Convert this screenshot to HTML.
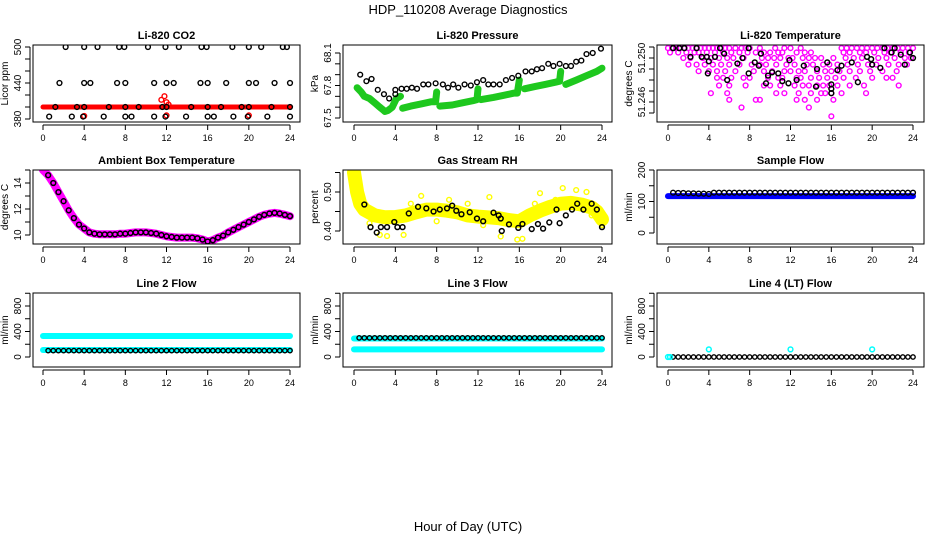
<!DOCTYPE html>
<html><head><meta charset="utf-8"><style>
html,body{margin:0;padding:0;background:#fff;}
svg{display:block;font-family:"Liberation Sans",sans-serif;}
</style></head><body>
<svg id="chart" width="936" height="540" viewBox="0 0 936 540" xmlns="http://www.w3.org/2000/svg">
<text x="468" y="14" text-anchor="middle" font-size="13">HDP_110208  Average Diagnostics</text>
<text x="468" y="531" text-anchor="middle" font-size="13">Hour of Day (UTC)</text>
</svg>
<script>
// ---------- data ----------
const xTicks=[0,4,8,12,16,20,24];
const co2BlackH500=[2.2,4,5.3,7.4,7.9,10.2,11.9,13.2,15.4,15.9,18.4,20,21.2,23.3,23.7];
const co2BlackH440=[1.6,4,4.6,7.2,8,10.8,12,12.7,15.3,16,17.8,20,20.7,22.5,24];
const co2BlackH400=[1.2,3.3,4,6.4,8,9.3,11.6,12,14.4,16,17.3,19.3,20,22.2,24];
const co2BlackH384=[0.6,2.8,3.9,5.9,8,8.6,10.8,11.9,13.9,16,16.6,18.5,19.9,21.8,24];
const co2RedBandH=[0,24];
const co2RedBandV=[400,400];
const co2RedPtH=[4,11.5,11.8,12,12.2,12,20];
const co2RedPtV=[385,412,418,408,404,386,386];

const presBlackH=[0.6,1.2,1.7,2.3,2.9,3.4,4,4,4.6,5.1,5.6,6.1,6.7,7.2,7.9,8.6,9.1,9.6,10.1,10.7,11.3,11.9,12.5,13,13.5,14.1,14.7,15.3,15.9,16.6,17.2,17.7,18.2,18.8,19.3,19.9,20.5,21,21.5,22,22.5,23.1,23.9];
const presBlackV=[67.9,67.84,67.86,67.76,67.72,67.68,67.76,67.72,67.77,67.77,67.78,67.77,67.81,67.81,67.82,67.81,67.78,67.81,67.78,67.81,67.8,67.83,67.85,67.81,67.81,67.81,67.85,67.87,67.89,67.93,67.93,67.95,67.96,68.0,67.98,68.0,67.98,67.98,68.02,68.03,68.09,68.1,68.14];
const presGreenSegH=[[0.3,0.7,1,1.5,2,2.5,3,3.3,3.7,4.1,4.5],[4.7,5.5,6.5,7.5,7.9,8.0],[8.3,9.5,10.5,11.5,11.9,12.0],[12.3,13.5,14.5,15.5,15.8,16.0],[16.5,17.5,18.5,19.5,19.9,20.0],[20.5,21.5,22.5,23.5,24]];
const presGreenSegV=[[67.78,67.74,67.7,67.68,67.64,67.6,67.56,67.57,67.6,67.68,67.7],[67.59,67.61,67.63,67.65,67.65,67.74],[67.61,67.62,67.64,67.66,67.67,67.77],[67.67,67.69,67.71,67.73,67.73,67.85],[67.77,67.79,67.81,67.83,67.84,67.93],[67.81,67.85,67.89,67.93,67.96]];

const tempMagLevels=[51.2509,51.2505,51.2500,51.2494,51.2488,51.2482,51.2475,51.2468,51.2462,51.2455,51.2447];
const tempMagHours=[
[0,0.4,0.8,1.2,1.6,2,2.4,2.8,3.2,3.6,4,4.4,4.8,5.2,5.6,6,6.6,7.2,7.6,8,9,10.5,11.4,12,13,17,17.5,18,18.5,19,19.5,20,20.5,21,21.5,22,22.5,23,23.5,24],
[0.2,1,1.8,2.6,3,3.8,4.6,5.4,6.2,7,7.8,8.6,9.4,10,10.8,11.2,12.6,13.4,14,17.2,17.8,18.8,19.4,20.2,21.2,21.8,22.8,23.6],
[1.5,2.2,3.4,4.2,5,5.8,6.4,7.4,9.2,9.8,10.4,11,11.8,12.2,13.2,13.8,14.4,15,16.2,17.4,18.2,19,20.6,21.4,22.2,23.2,23.8],
[2,2.8,3.6,4.4,5.2,6,7,8.2,9,9.6,10.6,11.6,12.4,13.6,14.2,15.2,15.8,16.6,17.6,18.6,19.6,20.4,21.6,22.6,23.4],
[3,4,4.8,5.6,6.6,8.4,9.4,10.2,11.4,12,12.8,13.4,14.6,15.4,16,16.8,17.8,18.8,19.8,21,22.4],
[4.8,5.4,6.2,7.4,8,9.8,10.8,11.2,12.6,13,14,14.8,15.6,16.4,17.2,18.4,20,21.4,22],
[5,6,7.6,9.4,10,11,12.4,13.2,13.8,14.6,15.2,15.8,16.6,17.8,19.2,22.6],
[4.2,5.8,10.6,11.4,12.8,14,15,15.4,16,17,19.4],
[6,8.6,9,12.6,13.4,14.6,16.2],
[7.2,13.8],
[16]];
const tempBlackH=[0.5,1.1,1.6,2.8,5.1,7.9,2.2,3.3,3.8,4.6,5.5,6.8,7.3,4,8.5,9.1,8.9,3.9,5.8,7.9,9.8,10.2,9.6,11.8,10.8,11.9,11.2,13.3,14.6,15.6,16,16,16,17,18,18.6,19.5,19.9,20,20.8,21.2,21.9,22.2,22.8,23.2,23.7,24,12.6,14.5,16.6];
const tempBlackV=[51.2509,51.2509,51.2509,51.2509,51.2509,51.2509,51.2501,51.2501,51.2501,51.2501,51.2504,51.2495,51.25,51.2497,51.2496,51.2504,51.2493,51.2486,51.248,51.2486,51.2484,51.2487,51.2477,51.2477,51.2486,51.2498,51.2479,51.2493,51.249,51.2496,51.2476,51.2472,51.2468,51.2493,51.2496,51.2478,51.2501,51.2499,51.2494,51.2491,51.2509,51.2505,51.2509,51.2503,51.2494,51.2505,51.25,51.248,51.2474,51.2489];

const ambH=[0,0.5,1,1.5,2,2.5,3,3.5,4,4.5,5,5.5,6,6.5,7,7.5,8,8.5,9,9.5,10,10.5,11,11.5,12,12.5,13,13.5,14,14.5,15,15.5,16,16.5,17,17.5,18,18.5,19,19.5,20,20.5,21,21.5,22,22.5,23,23.5,24];
const ambV=[15,14.6,14.0,13.3,12.6,11.9,11.3,10.8,10.5,10.2,10.1,10.05,10.05,10.05,10.05,10.1,10.1,10.15,10.2,10.2,10.2,10.15,10.1,10.0,9.9,9.85,9.8,9.8,9.8,9.8,9.75,9.65,9.5,9.6,9.8,9.95,10.2,10.4,10.6,10.8,11.0,11.2,11.4,11.55,11.65,11.7,11.65,11.55,11.45];

const rhYelH=[0,0.3,0.6,1,2,3,4,5,6,7,8,9,10,11,12,13,14,15,16,17,18,19,20,21,22,23,23.5,24];
const rhYelV=[0.55,0.5,0.47,0.455,0.44,0.435,0.436,0.44,0.448,0.455,0.455,0.452,0.448,0.44,0.437,0.435,0.433,0.428,0.425,0.44,0.452,0.462,0.47,0.472,0.468,0.46,0.45,0.43];
const rhYelOutH=[0.1,0.2,0.3,2.5,4.8,6.5,9.2,14.2,15.8,16.3,18,20.2,21.5,22.5,24,3.2,13.1,1.5,5.5,8,11,12.5,17.5,19.5,23];
const rhYelOutV=[0.562,0.54,0.52,0.39,0.39,0.49,0.48,0.386,0.378,0.38,0.497,0.51,0.505,0.5,0.415,0.387,0.487,0.42,0.47,0.425,0.47,0.415,0.47,0.48,0.44];
const rhBlackH=[1,1.6,2.2,2.6,3.2,3.9,4.2,4.7,5.3,6.2,7,7.7,8.3,9,9.5,9.9,10.4,11.2,11.9,12.5,13.5,14,14.2,14.3,15,15.9,16.3,17.2,17.8,18.3,18.9,19.6,19.9,20.5,21.1,21.6,22.2,23,23.5,24];
const rhBlackV=[0.468,0.41,0.396,0.41,0.41,0.423,0.41,0.41,0.445,0.462,0.458,0.45,0.455,0.458,0.465,0.452,0.443,0.448,0.432,0.425,0.447,0.44,0.432,0.4,0.417,0.408,0.418,0.405,0.418,0.406,0.422,0.455,0.42,0.44,0.455,0.47,0.455,0.47,0.455,0.41];

const sampBandH=[0,24];
const sampBandV=[117,117];
const halfHours=[0.5,1,1.5,2,2.5,3,3.5,4,4.5,5,5.5,6,6.5,7,7.5,8,8.5,9,9.5,10,10.5,11,11.5,12,12.5,13,13.5,14,14.5,15,15.5,16,16.5,17,17.5,18,18.5,19,19.5,20,20.5,21,21.5,22,22.5,23,23.5,24];
const sampBlackV=[128,127,127,126,126,125,125,124,128,128,128,128,128,128,128,128,128,128,128,128,128,128,128,128,128,128,128,128,128,128,128,128,128,128,128,128,128,128,128,128,128,128,128,128,128,128,128,128];

const l2CyanHighV=[330,330];
const l2CyanLowV=[110,110];
const l2BlackV=100;
const l3CyanHighV=[290,290];
const l3CyanLowV=[120,120];
const l3BlackV=300;
const l4BlackV=0;
const l4CyanPtH=[0,0.2,4,12,20];
const l4CyanPtV=[0,0,120,120,120];

// ---------- drawing ----------
const NS="http://www.w3.org/2000/svg";
const svg=document.getElementById('chart');
function el(tag,attrs,parent){const e=document.createElementNS(NS,tag);for(const k in attrs)e.setAttribute(k,attrs[k]);(parent||svg).appendChild(e);return e;}
const cols=[{l:33,r:300,x0:43,x24:290},{l:343,r:612,x0:354,x24:602},{l:657,r:924,x0:668,x24:913}];
const rows=[{t:45,b:122},{t:170,b:244},{t:293,b:367}];

function panel(name,title,ci,ri,v0,p0,v1,p1,ticks,labels,ylab){
  const c=cols[ci],r=rows[ri];
  const g=el('g',{});
  
  
  const sx=h=>c.x0+(h/24)*(c.x24-c.x0);
  const sy=v=>p0+(v-v0)*(p1-p0)/(v1-v0);
  const t=el('text',{x:(c.l+c.r)/2,y:r.t-6,'text-anchor':'middle','font-size':11,'font-weight':'bold'},g);
  t.textContent=title;
  
  
  const clip=el('clipPath',{id:'cl'+name},g);
  el('rect',{x:c.l,y:r.t,width:c.r-c.l,height:r.b-r.t},clip);
  const plot=el('g',{'clip-path':'url(#cl'+name+')'},g);
  
  
  const box=el('rect',{x:c.l,y:r.t,width:c.r-c.l,height:r.b-r.t,fill:'none',stroke:'#000','stroke-width':1},g);
  
  
  const xa=el('g',{},g);
  
  
  el('line',{x1:sx(0),x2:sx(24),y1:r.b+3,y2:r.b+3,stroke:'#000'},xa);
  xTicks.forEach(h=>{el('line',{x1:sx(h),x2:sx(h),y1:r.b+3,y2:r.b+8,stroke:'#000'},xa);
    const tl=el('text',{x:sx(h),y:r.b+19,'text-anchor':'middle','font-size':9},xa);tl.textContent=h;});
  const ya=el('g',{},g);
  
  
  el('line',{x1:c.l-3,x2:c.l-3,y1:sy(ticks[0]),y2:sy(ticks[ticks.length-1]),stroke:'#000'},ya);
  ticks.forEach(v=>el('line',{x1:c.l-8,x2:c.l-3,y1:sy(v),y2:sy(v),stroke:'#000'},ya));
  labels.forEach(v=>{const x=c.l-12,y=sy(v);const tl=el('text',{x:x,y:y,'text-anchor':'middle','font-size':10,transform:`rotate(-90 ${x} ${y})`},ya);tl.textContent=v;});
  const yx=c.l-25,yy=(r.t+r.b)/2;
  const yl=el('text',{x:yx,y:yy,'text-anchor':'middle','font-size':10,transform:`rotate(-90 ${yx} ${yy})`},g);
  yl.textContent=ylab;
  
  
  return {plot,sx,sy};
}
function pts(P,H,V,color,r,sw,nm){const g=el('g',{},P.plot);
  
  
  H.forEach((h,i)=>{const v=Array.isArray(V)?V[i]:V;el('circle',{cx:P.sx(h),cy:P.sy(v),r:r||2.4,fill:'none',stroke:color,'stroke-width':sw||1.4},g);});}
function band(P,H,V,color,w,nm){const d=H.map((h,i)=>(i?'L':'M')+P.sx(h).toFixed(1)+' '+P.sy(V[i]).toFixed(1)).join('');
  const p=el('path',{d:d,fill:'none',stroke:color,'stroke-width':w,'stroke-linecap':'round','stroke-linejoin':'round'},P.plot);
  
  }

// P1 CO2
let P=panel('co2','Li-820 CO2',0,0,380,119,500,47,[380,400,420,440,460,480,500],[380,440,500],'Licor ppm');
band(P,co2RedBandH,co2RedBandV,'#f00',5,'co2-red-band');
pts(P,co2RedPtH,co2RedPtV,'#f00',2.4,1.4,'co2-red-points');
pts(P,co2BlackH500,500,'#000',2.4,1.4,'co2-black-500');
pts(P,co2BlackH440,440,'#000',2.4,1.4,'co2-black-440');
pts(P,co2BlackH400,400,'#000',2.4,1.4,'co2-black-400');
pts(P,co2BlackH384,384,'#000',2.4,1.4,'co2-black-384');
// P2 pressure
P=panel('pressure','Li-820 Pressure',1,0,67.5,118,68.1,53,[67.5,67.6,67.7,67.8,67.9,68.0,68.1],['67.5','67.8','68.1'],'kPa');
presGreenSegH.forEach((H,i)=>band(P,H,presGreenSegV[i],'#1ec81e',7,'pressure-green-segment'));
pts(P,presBlackH,presBlackV,'#000',2.4,1.4,'pressure-black-points');
// P3 temperature
P=panel('li820-temp','Li-820 Temperature',2,0,51.246,102,51.250,58,[51.245,51.246,51.247,51.248,51.249,51.250,51.251],['51.246','51.250'],'degrees C');
tempMagHours.forEach((H,i)=>pts(P,H,tempMagLevels[i],'#f0f',2.4,1.4,'temp-magenta-points'));
pts(P,tempBlackH,tempBlackV,'#000',2.4,1.5,'temp-black-points');
// P4 ambient
P=panel('ambient','Ambient Box Temperature',0,1,10,235,14,183,[10,11,12,13,14,15],[10,12,14],'degrees C');
band(P,ambH,ambV,'#f0f',8,'ambient-magenta-band');
pts(P,ambH.slice(1),ambV.slice(1),'#000',2.4,1.5,'ambient-black-points');
// P5 RH
P=panel('rh','Gas Stream RH',1,1,0.40,231,0.50,192,[0.40,0.45,0.50,0.55],['0.40','0.50'],'percent');
band(P,rhYelH,rhYelV,'#ff0',14,'rh-yellow-band');
pts(P,rhYelOutH,rhYelOutV,'#ff0',2.4,1.4,'rh-yellow-outliers');
pts(P,rhBlackH,rhBlackV,'#000',2.4,1.5,'rh-black-points');
// P6 sample flow
P=panel('sample-flow','Sample Flow',2,1,0,233,200,170,[0,50,100,150,200],[0,100,200],'ml/min');
band(P,sampBandH,sampBandV,'#00f',6,'sample-blue-band');
pts(P,halfHours,sampBlackV,'#000',2.4,1.4,'sample-black-points');
// P7 line 2
P=panel('line2','Line 2 Flow',0,2,0,357,800,306,[0,200,400,600,800,1000],[0,400,800],'ml/min');
band(P,sampBandH,l2CyanHighV,'#0ff',6,'line2-cyan-high');
band(P,sampBandH,l2CyanLowV,'#0ff',6,'line2-cyan-low');
pts(P,halfHours,l2BlackV,'#000',2.2,1.4,'line2-black-points');
// P8 line 3
P=panel('line3','Line 3 Flow',1,2,0,357,800,306,[0,200,400,600,800,1000],[0,400,800],'ml/min');
band(P,sampBandH,l3CyanHighV,'#0ff',6,'line3-cyan-high');
band(P,sampBandH,l3CyanLowV,'#0ff',6,'line3-cyan-low');
pts(P,halfHours,l3BlackV,'#000',2.2,1.4,'line3-black-points');
// P9 line 4
P=panel('line4','Line 4 (LT) Flow',2,2,0,357,800,306,[0,200,400,600,800,1000],[0,400,800],'ml/min');
pts(P,halfHours,l4BlackV,'#000',2.2,1.4,'line4-black-points');
pts(P,l4CyanPtH,l4CyanPtV,'#0ff',2.4,1.5,'line4-cyan-points');
</script>
</body></html>
